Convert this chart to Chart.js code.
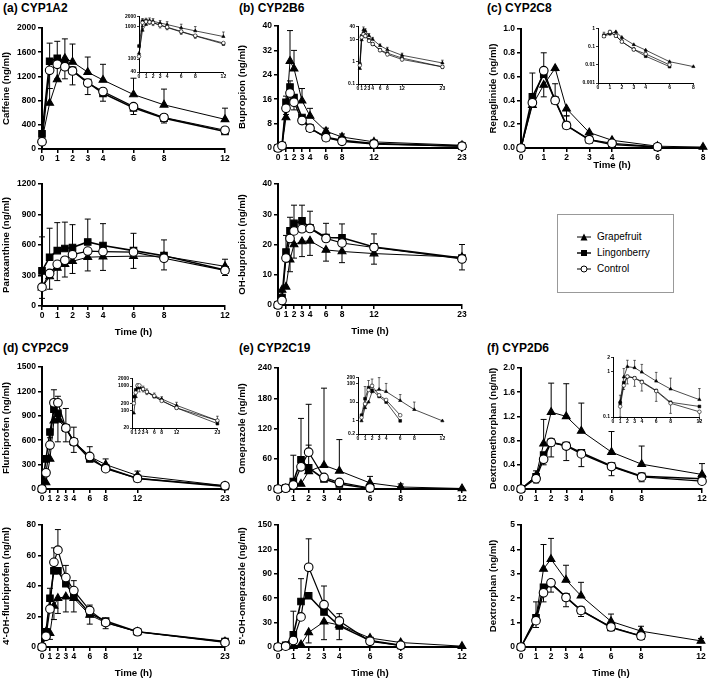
<!DOCTYPE html>
<html>
<head>
<meta charset="utf-8">
<script src="https://cdn.jsdelivr.net/npm/chart.js@4.4.0/dist/chart.umd.min.js"></script>
<style>
  body { margin: 0; width: 709px; height: 680px; position: relative; overflow: hidden; background: #fff; font-family: "Liberation Sans", Arial, sans-serif; }
  canvas { position: absolute; }
  .ttl { position: absolute; font-weight: bold; font-size: 12px; line-height: 14px; white-space: nowrap; }
  #leg { position: absolute; left: 557px; top: 214px; width: 115px; height: 77px; border: 1px solid #999; }
  #leg .row { position: absolute; left: 19px; height: 12px; line-height: 12px; font-size: 10px; white-space: nowrap; }
  #leg svg { position: absolute; left: 0; top: 2px; }
  #leg span { position: absolute; left: 20px; top: 0; }
</style>
</head>
<body>
<div class="ttl" style="left:3px;top:1px">(a) CYP1A2</div>
<div class="ttl" style="left:239px;top:1px">(b) CYP2B6</div>
<div class="ttl" style="left:487px;top:1px">(c) CYP2C8</div>
<div class="ttl" style="left:3px;top:341px">(d) CYP2C9</div>
<div class="ttl" style="left:239px;top:341px">(e) CYP2C19</div>
<div class="ttl" style="left:487px;top:341px">(f) CYP2D6</div>

<div id="leg">
  <div class="row" style="top:16px"><svg width="14" height="8"><line x1="0" y1="4" x2="14" y2="4" stroke="#000" stroke-width="1"/><polygon points="7,0.5 10.5,7.5 3.5,7.5" fill="#000"/></svg><span>Grapefruit</span></div>
  <div class="row" style="top:32px"><svg width="14" height="8"><line x1="0" y1="4" x2="14" y2="4" stroke="#000" stroke-width="1.4"/><rect x="4" y="1" width="6" height="6" fill="#000"/></svg><span>Lingonberry</span></div>
  <div class="row" style="top:48px"><svg width="14" height="8"><line x1="0" y1="4" x2="14" y2="4" stroke="#000" stroke-width="1"/><circle cx="7" cy="4" r="3" fill="#fff" stroke="#000" stroke-width="1"/></svg><span>Control</span></div>
</div>

<script>
// sampling times (h)
const tA = [0, 0.5, 1, 1.5, 2, 3, 4, 6, 8, 12];
const tB = [0, 0.5, 1, 1.5, 2, 3, 4, 6, 8, 12, 23];
const tC = [0, 0.5, 1, 1.5, 2, 3, 4, 6, 8];
const tF = [0, 1, 1.5, 2, 3, 4, 6, 8, 12];

const xTicksA = [0, 1, 2, 3, 4, 6, 8, 12];
const xTicksB = [0, 1, 2, 3, 4, 6, 8, 12, 23];
const xTicksC = [0, 1, 2, 3, 4, 6, 8];

// (a) caffeine / paraxanthine
const caffeineGF = [150, 760, 1150, 1500, 1440, 1270, 1140, 900, 730, 490];
const caffeineLB = [250, 1450, 1500, 1420, 1300, 1100, 920, 680, 510, 290];
const caffeineCT = [120, 1300, 1400, 1360, 1290, 1090, 950, 700, 520, 310];
const caffeineGFsd = [0, 240, 0, 320, 295, 250, 260, 270, 260, 185];
const caffeineLBsd = [0, 300, 280, 0, 0, 0, 0, 0, 0, 0];
const caffeineCTsd = [0, 300, 240, 200, 230, 190, 160, 130, 90, 40];
const caffeineTicks = [0, 400, 800, 1200, 1600, 2000];
const caffeineLogTicks = [40, 100, 1000, 2000];

const paraGF = [180, 290, 375, 410, 440, 480, 485, 490, 490, 390];
const paraLB = [345, 480, 545, 565, 575, 630, 595, 545, 495, 355];
const paraCT = [185, 320, 410, 450, 505, 540, 535, 530, 470, 350];
const paraLBsd = [335, 285, 275, 260, 225, 225, 215, 170, 155, 105];
const paraCTsd = [110, 155, 160, 165, 185, 195, 185, 160, 115, 50];
const paraTicks = [0, 300, 600, 900, 1200];

// (b) bupropion / OH-bupropion
const bupGF = [0, 0.5, 10, 28.5, 26, 15.5, 10.5, 5.5, 3.6, 2, 0.9];
const bupLB = [0, 0.8, 15, 20, 16.5, 10, 6.5, 3.5, 2.5, 1.5, 0.6];
const bupCT = [0, 0.7, 13, 18, 15, 9, 6.5, 3.4, 2.2, 1.3, 0.6];
const bupGFsd = [0, 0, 0, 10, 6, 4, 2.5, 1, 1, 0.5, 0.3];
const bupLBsd = [0, 0, 2, 2, 0, 0, 0, 0, 0, 0, 0];
const bupCTsd = [0, 0, 2, 0, 2.5, 1, 1, 0.5, 0.3, 0.2, 0.1];
const bupTicks = [0, 8, 16, 24, 32, 40];
const bupLogTicks = [0.1, 1, 10, 40];

const ohbGF = [0, 5, 6, 15, 20, 21, 21.2, 18.2, 17.7, 17, 15.8];
const ohbLB = [0, 2.5, 17.5, 24.5, 27, 27.8, 25.5, 22.3, 22.2, 19.2, 15.5];
const ohbCT = [0, 1.5, 15.5, 22, 24.5, 25.2, 25.3, 22, 20.5, 19, 15.2];
const ohbLBsd = [0, 0, 5.5, 4.5, 6, 5.2, 5.5, 4.7, 4.6, 4.3, 4.5];
const ohbGFsd = [0, 0, 0, 4, 4.5, 5, 4.8, 3.7, 3.7, 3.5, 4.2];
const ohbTicks = [0, 10, 20, 30, 40];

// (c) repaglinide
const repGF = [0, 0.36, 0.53, 0.67, 0.33, 0.13, 0.065, 0.015, 0.008];
const repLB = [0, 0.43, 0.62, 0.40, 0.19, 0.07, 0.03, 0.008, null];
const repCT = [0, 0.38, 0.65, 0.40, 0.19, 0.07, 0.04, 0.01, null];
const repLBsd = [0, 0.2, 0, 0, 0, 0, 0, 0, 0];
const repCTsd = [0, 0, 0.15, 0.14, 0.08, 0.02, 0.01, 0, 0];
const repGFsd = [0, 0, 0.1, 0.02, 0.06, 0.01, 0.01, 0, 0];
const repTicks = [0, 0.2, 0.4, 0.6, 0.8, 1.0];
const repLogTicks = [0.001, 0.01, 0.1, 1];

// (d) flurbiprofen / 4'-OH-flurbiprofen
const fluGF = [0, 80, 370, 840, 850, 750, 580, 400, 300, 165, 40];
const fluLB = [0, 370, 700, 980, 930, 750, 580, 370, 260, 130, 30];
const fluCT = [0, 200, 540, 1060, 1060, 750, 580, 400, 250, 130, 40];
const fluCTsd = [0, 0, 0, 160, 80, 240, 180, 120, 0, 0, 0];
const fluGFsd = [0, 0, 0, 0, 0, 0, 0, 0, 70, 55, 20];
const fluLBsd = [0, 0, 70, 0, 350, 170, 130, 0, 0, 0, 0];
const fluTicks = [0, 300, 600, 900, 1200, 1500];
const fluLogTicks = [20, 100, 200, 1000, 2000];

const ohfGF = [0, 10, 9, 27, 32, 33, 32, 21, 16, 10, 3.5];
const ohfLB = [0, 10, 32, 50, 50, 41.5, 34, 22, 17, 10, 3.5];
const ohfCT = [0, 7, 25, 55.5, 63.5, 45.5, 37, 24, 16, 10, 3];
const ohfCTsd = [0, 0, 0, 9.5, 13.5, 8, 6.5, 3.5, 2, 0, 0];
const ohfLBsd = [0, 0, 6.5, 0, 0, 0, 0, 0, 0, 0, 0];
const ohfGFsd = [0, 0, 4, 9, 10, 10, 9, 6, 4, 0, 0];
const ohfTicks = [0, 20, 40, 60, 80];

// (e) omeprazole / 5'-OH-omeprazole
const omeGF = [0, 1, 5, 10, 35, 47, 36, 12, 4, 1];
const omeLB = [0, 2, 15, 58, 42, 20, 10, 1, null, null];
const omeCT = [0, 1.5, 8, 44, 73, 23, 13, 2, null, null];
const omeGFsd = [0, 0, 0, 0, 0, 153, 62, 13, 6, 0];
const omeLBsd = [0, 0, 52, 82, 45, 0, 0, 0, 0, 0];
const omeCTsd = [0, 0, 0, 0, 95, 0, 0, 0, 0, 0];
const omeTicks = [0, 60, 120, 180, 240];
const omeLogTicks = [0.2, 1, 10, 100, 200];

const oh5GF = [0, 0.5, 1, 3, 18, 31, 27, 11, 5.5, 1];
const oh5LB = [0, 2, 15, 56, 63, 43, 26, 8, 2, null];
const oh5CT = [0, 1, 8, 37, 98, 52, 32, 7, 2, null];
const oh5CTsd = [0, 0, 0, 0, 35, 23, 9, 0, 0, 0];
const oh5LBsd = [0, 0, 29, 28, 0, 0, 0, 0, 0, 0];
const oh5GFsd = [0, 0, 0, 0, 13, 22, 18, 0, 0, 0];
const oh5Ticks = [0, 30, 60, 90, 120, 150];

// (f) dextromethorphan / dextrorphan
const dxmGF = [0, 0.22, 0.75, 1.27, 1.2, 0.96, 0.61, 0.41, 0.24];
const dxmLB = [0, 0.2, 0.56, 0.77, 0.72, 0.6, 0.38, 0.21, 0.17];
const dxmCT = [0, 0.17, 0.49, 0.77, 0.71, 0.58, 0.37, 0.2, 0.13];
const dxmGFsd = [0, 0.08, 0.4, 0.48, 0.54, 0.46, 0.34, 0.3, 0.18];
const dxmCTsd = [0, 0.07, 0.09, 0.24, 0.24, 0.21, 0.15, 0.08, 0.05];
const dxmTicks = [0, 0.4, 0.8, 1.2, 1.6, 2.0];
const dxmLogTicks = [0.1, 1, 2];

const dxoGF = [0, 1.2, 3.2, 3.6, 2.75, 2.1, 1.05, 0.65, 0.25];
const dxoLB = [0, 1.2, 2.45, 2.6, 2.05, 1.5, 0.8, 0.45, null];
const dxoCT = [0, 1.08, 2.22, 2.63, 2.03, 1.5, 0.82, 0.45, null];
const dxoGFsd = [0, 0.65, 1.0, 0.85, 0.6, 0.55, 0.3, 0.2, 0.1];
const dxoCTsd = [0, 0.28, 0.37, 0.38, 0.38, 0.25, 0.12, 0.05, 0];
const dxoTicks = [0, 1, 2, 3, 4, 5];

Chart.defaults.font.family = '"Liberation Sans", Arial, sans-serif';
Chart.defaults.color = '#000';

const titleFont = { size: 9.7, weight: 'bold' };

const looks = {
  GF: { ps: 'triangle', r: 4.5, fill: '#000', lw: 1 },
  LB: { ps: 'rect', r: 4.6, fill: '#000', lw: 1.6 },
  CT: { ps: 'circle', r: 4.3, fill: '#fff', lw: 1.2 }
};

// vertical error bars (mean +/- SD, one side), drawn under the markers
const errBars = {
  id: 'errBars',
  beforeDatasetsDraw(chart, args, opts) {
    const ctx = chart.ctx, ys = chart.scales.y;
    ctx.save();
    ctx.strokeStyle = '#000';
    ctx.lineWidth = opts.width;
    chart.data.datasets.forEach((ds, i) => {
      if (!ds.err) return;
      const pts = chart.getDatasetMeta(i).data;
      ds.data.forEach((p, j) => {
        const e = ds.err[j];
        if (!e || p.y == null) return;
        let end = p.y + ds.dir * e;
        if (end <= 0) end = ys.min;
        const x = pts[j].x, y0 = pts[j].y, y1 = ys.getPixelForValue(end);
        ctx.beginPath();
        ctx.moveTo(x, y0); ctx.lineTo(x, y1);
        ctx.moveTo(x - opts.cap, y1); ctx.lineTo(x + opts.cap, y1);
        ctx.stroke();
      });
    });
    ctx.restore();
  }
};

function makeSets(t, sets, log, k) {
  return sets.map(s => {
    const lk = looks[s.g];
    return {
      data: t.map((x, i) => ({ x: x, y: (s.v[i] == null || (log && s.v[i] <= 0)) ? null : s.v[i] })),
      err: s.e, dir: s.dir,
      borderColor: '#000',
      borderWidth: Math.max(lk.lw * k, 0.7),
      pointStyle: lk.ps,
      pointRadius: lk.r * k,
      pointBackgroundColor: lk.fill,
      pointBorderColor: '#000',
      pointBorderWidth: Math.max(1.1 * k, 0.6),
      tension: 0,
      clip: false
    };
  });
}

function plot(o) {
  const ins = !!o.inset;
  const yw = o.yw, padT = ins ? 4 : 10, padR = ins ? 4 : 8;
  const xh = o.xh || (ins ? 9 : 20);
  const [l, t, r, b] = o.box;
  const c = document.createElement('canvas');
  c.width = Math.round(yw + (r - l) + padR);
  c.height = Math.round(padT + (b - t) + xh);
  c.style.left = (l - yw) + 'px';
  c.style.top = (t - padT) + 'px';
  document.body.appendChild(c);

  const tf = { size: ins ? 5 : 8.5, weight: 'bold' };
  const grid = { drawOnChartArea: false, tickLength: ins ? 2 : 4, color: '#000', lineWidth: ins ? 0.8 : 1.5 };
  const border = { color: '#000', width: ins ? 1 : 2 };

  new Chart(c, {
    type: 'line',
    data: { datasets: makeSets(o.t, o.sets, ins, ins ? 0.42 : 1) },
    options: {
      responsive: false,
      animation: false,
      events: [],
      layout: { padding: { top: padT, right: padR, left: 0, bottom: 0 } },
      plugins: {
        legend: { display: false },
        tooltip: { enabled: false },
        errBars: { cap: ins ? 1.3 : 3, width: ins ? 0.6 : 1 }
      },
      scales: {
        x: {
          type: 'linear',
          min: 0,
          max: o.xTicks[o.xTicks.length - 1],
          afterBuildTicks: s => { s.ticks = o.xTicks.map(v => ({ value: v })); },
          afterFit: s => { s.height = xh; },
          grid: grid,
          border: border,
          ticks: { autoSkip: false, maxRotation: 0, padding: ins ? 0 : 1, font: tf, color: '#000' },
          title: { display: !!o.xTitle, text: o.xTitle, font: titleFont, color: '#000', padding: 0 }
        },
        y: {
          type: ins ? 'logarithmic' : 'linear',
          min: o.yTicks[0],
          max: o.yTicks[o.yTicks.length - 1],
          afterBuildTicks: s => { s.ticks = o.yTicks.map(v => ({ value: v })); },
          afterFit: s => { s.width = yw; },
          grid: grid,
          border: border,
          ticks: {
            autoSkip: false, padding: ins ? 1 : 2, font: tf, color: '#000',
            callback: v => o.dec ? Number(v).toFixed(o.dec) : String(v)
          },
          title: { display: !!o.yTitle, text: o.yTitle, font: titleFont, color: '#000', padding: { top: 1, bottom: 0 } }
        }
      }
    },
    plugins: [errBars]
  });
}

// series lists: control first so it is painted on top
const caffeineSets = [
  { g: 'CT', v: caffeineCT, e: caffeineCTsd, dir: -1 },
  { g: 'LB', v: caffeineLB, e: caffeineLBsd, dir: 1 },
  { g: 'GF', v: caffeineGF, e: caffeineGFsd, dir: 1 }
];
const paraSets = [
  { g: 'CT', v: paraCT, e: paraCTsd, dir: -1 },
  { g: 'LB', v: paraLB, e: paraLBsd, dir: 1 },
  { g: 'GF', v: paraGF }
];
const bupSets = [
  { g: 'CT', v: bupCT, e: bupCTsd, dir: -1 },
  { g: 'LB', v: bupLB, e: bupLBsd, dir: 1 },
  { g: 'GF', v: bupGF, e: bupGFsd, dir: 1 }
];
const ohbSets = [
  { g: 'CT', v: ohbCT },
  { g: 'LB', v: ohbLB, e: ohbLBsd, dir: 1 },
  { g: 'GF', v: ohbGF, e: ohbGFsd, dir: -1 }
];
const repSets = [
  { g: 'CT', v: repCT, e: repCTsd, dir: 1 },
  { g: 'LB', v: repLB, e: repLBsd, dir: 1 },
  { g: 'GF', v: repGF, e: repGFsd, dir: -1 }
];
const fluSets = [
  { g: 'CT', v: fluCT, e: fluCTsd, dir: 1 },
  { g: 'LB', v: fluLB, e: fluLBsd, dir: -1 },
  { g: 'GF', v: fluGF, e: fluGFsd, dir: 1 }
];
const ohfSets = [
  { g: 'CT', v: ohfCT, e: ohfCTsd, dir: 1 },
  { g: 'LB', v: ohfLB, e: ohfLBsd, dir: 1 },
  { g: 'GF', v: ohfGF, e: ohfGFsd, dir: -1 }
];
const omeSets = [
  { g: 'CT', v: omeCT, e: omeCTsd, dir: 1 },
  { g: 'LB', v: omeLB, e: omeLBsd, dir: 1 },
  { g: 'GF', v: omeGF, e: omeGFsd, dir: 1 }
];
const oh5Sets = [
  { g: 'CT', v: oh5CT, e: oh5CTsd, dir: 1 },
  { g: 'LB', v: oh5LB, e: oh5LBsd, dir: 1 },
  { g: 'GF', v: oh5GF, e: oh5GFsd, dir: -1 }
];
const dxmSets = [
  { g: 'CT', v: dxmCT, e: dxmCTsd, dir: -1 },
  { g: 'LB', v: dxmLB },
  { g: 'GF', v: dxmGF, e: dxmGFsd, dir: 1 }
];
const dxoSets = [
  { g: 'CT', v: dxoCT, e: dxoCTsd, dir: -1 },
  { g: 'LB', v: dxoLB },
  { g: 'GF', v: dxoGF, e: dxoGFsd, dir: 1 }
];

// main panels
plot({ box: [42, 28, 225, 149], yw: 42, t: tA, xTicks: xTicksA, yTicks: caffeineTicks, yTitle: 'Caffeine (ng/ml)', sets: caffeineSets });
plot({ box: [42, 184, 225, 306], yw: 42, xh: 32, t: tA, xTicks: xTicksA, yTicks: paraTicks, yTitle: 'Paraxanthine (ng/ml)', xTitle: 'Time (h)', sets: paraSets });
plot({ box: [278, 26, 462, 148], yw: 42, t: tB, xTicks: xTicksB, yTicks: bupTicks, yTitle: 'Bupropion (ng/ml)', sets: bupSets });
plot({ box: [278, 184, 462, 305], yw: 42, xh: 32, t: tB, xTicks: xTicksB, yTicks: ohbTicks, yTitle: 'OH-bupropion (ng/ml)', xTitle: 'Time (h)', sets: ohbSets });
plot({ box: [521, 29, 703, 148], yw: 34, xh: 23, t: tC, xTicks: xTicksC, yTicks: repTicks, dec: 1, yTitle: 'Repaglinide (ng/ml)', xTitle: 'Time (h)', sets: repSets });

plot({ box: [42, 367, 225, 489], yw: 42, t: tB, xTicks: xTicksB, yTicks: fluTicks, yTitle: 'Flurbiprofen (ng/ml)', sets: fluSets });
plot({ box: [42, 525, 225, 647], yw: 42, xh: 32, t: tB, xTicks: xTicksB, yTicks: ohfTicks, yTitle: "4'-OH-flurbiprofen (ng/ml)", xTitle: 'Time (h)', sets: ohfSets });
plot({ box: [278, 368, 462, 489], yw: 42, t: tA, xTicks: xTicksA, yTicks: omeTicks, yTitle: 'Omeprazole (ng/ml)', sets: omeSets });
plot({ box: [278, 525, 462, 647], yw: 42, xh: 32, t: tA, xTicks: xTicksA, yTicks: oh5Ticks, yTitle: "5'-OH-omeprazole (ng/ml)", xTitle: 'Time (h)', sets: oh5Sets });
plot({ box: [521, 368, 702, 489], yw: 34, t: tF, xTicks: xTicksA, yTicks: dxmTicks, dec: 1, yTitle: 'Dextromethorphan (ng/ml)', sets: dxmSets });
plot({ box: [521, 525, 701, 647], yw: 34, xh: 32, t: tF, xTicks: xTicksA, yTicks: dxoTicks, yTitle: 'Dextrorphan (ng/ml)', xTitle: 'Time (h)', sets: dxoSets });

// log-scale insets
plot({ inset: true, box: [139, 16, 224, 72], yw: 16, t: tA, xTicks: xTicksA, yTicks: caffeineLogTicks, sets: caffeineSets });
plot({ inset: true, box: [358, 26, 443, 84], yw: 14, t: tB, xTicks: xTicksB, yTicks: bupLogTicks, sets: bupSets });
plot({ inset: true, box: [598, 28, 694, 83], yw: 16, t: tC, xTicks: xTicksC, yTicks: repLogTicks, sets: repSets });
plot({ inset: true, box: [132, 378, 218, 428], yw: 16, t: tB, xTicks: xTicksB, yTicks: fluLogTicks, sets: fluSets });
plot({ inset: true, box: [358, 377, 443, 434], yw: 14, t: tA, xTicks: xTicksA, yTicks: omeLogTicks, sets: omeSets });
plot({ inset: true, box: [613, 357, 700, 417], yw: 10, t: tF, xTicks: xTicksA, yTicks: dxmLogTicks, sets: dxmSets });
</script>
</body>
</html>
